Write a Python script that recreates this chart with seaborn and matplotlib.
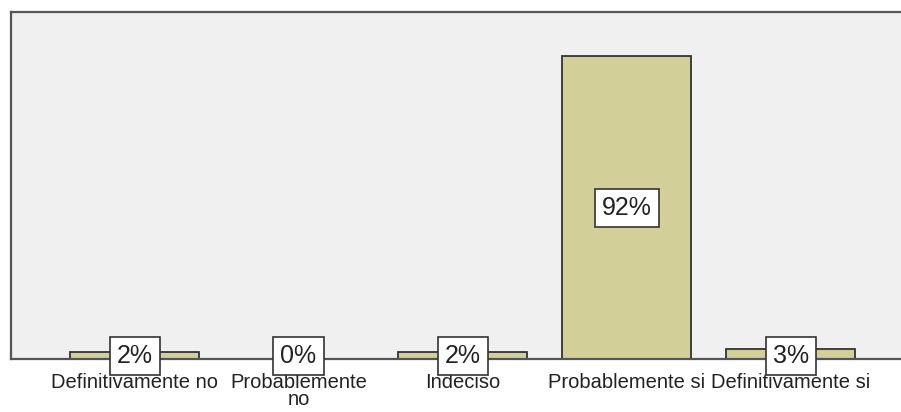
import seaborn as sns
import matplotlib.pyplot as plt
import pandas as pd

categorias = ["Definitivamente no", "Probablemente\nno", "Indeciso",
              "Probablemente si", "Definitivamente si"]
porcentajes = [2, 0, 2, 92, 3]
etiquetas = ["2%", "0%", "2%", "92%", "3%"]

df = pd.DataFrame({"categoria": categorias, "porcentaje": porcentajes})

sns.set_style("white")
plt.rcParams["font.family"] = ["Liberation Sans", "DejaVu Sans"]

fig = plt.figure(figsize=(9.01, 4.12), dpi=100)
ax = fig.add_axes([11 / 901, 53 / 412, 1.0, 347 / 412])
ax.set_facecolor("#f0f0f0")

sns.barplot(data=df, x="categoria", y="porcentaje", color="#d3cf98",
            edgecolor="#333333", linewidth=1.3, width=0.786, saturation=1, ax=ax)

ax.set_xlim(-0.753, 4.74)
ax.set_ylim(0, 105.5)
ax.set_yticks([0, 20, 40, 60, 80, 100])
ax.set_yticklabels([])
ax.tick_params(axis="y", length=3, width=1, color="#555555", direction="out")
ax.tick_params(axis="x", length=10, width=1.2, color="#333333",
               labelsize=14.5, labelcolor="#222222", pad=0)
for lbl in ax.get_xticklabels():
    lbl.set_linespacing(0.85)
ax.set_xlabel("")
ax.set_ylabel("")
for s in ax.spines.values():
    s.set_color("#555555")
    s.set_linewidth(1.6)

for i, (v, t) in enumerate(zip(porcentajes, etiquetas)):
    y = v / 2 if v > 20 else 0.8
    ax.text(i, y, t, ha="center", va="center", fontsize=18, color="#222222",
            bbox=dict(boxstyle="square,pad=0.28", facecolor="white",
                      edgecolor="#333333", linewidth=1.2), zorder=5)

fig.savefig("out.png", dpi=100)
